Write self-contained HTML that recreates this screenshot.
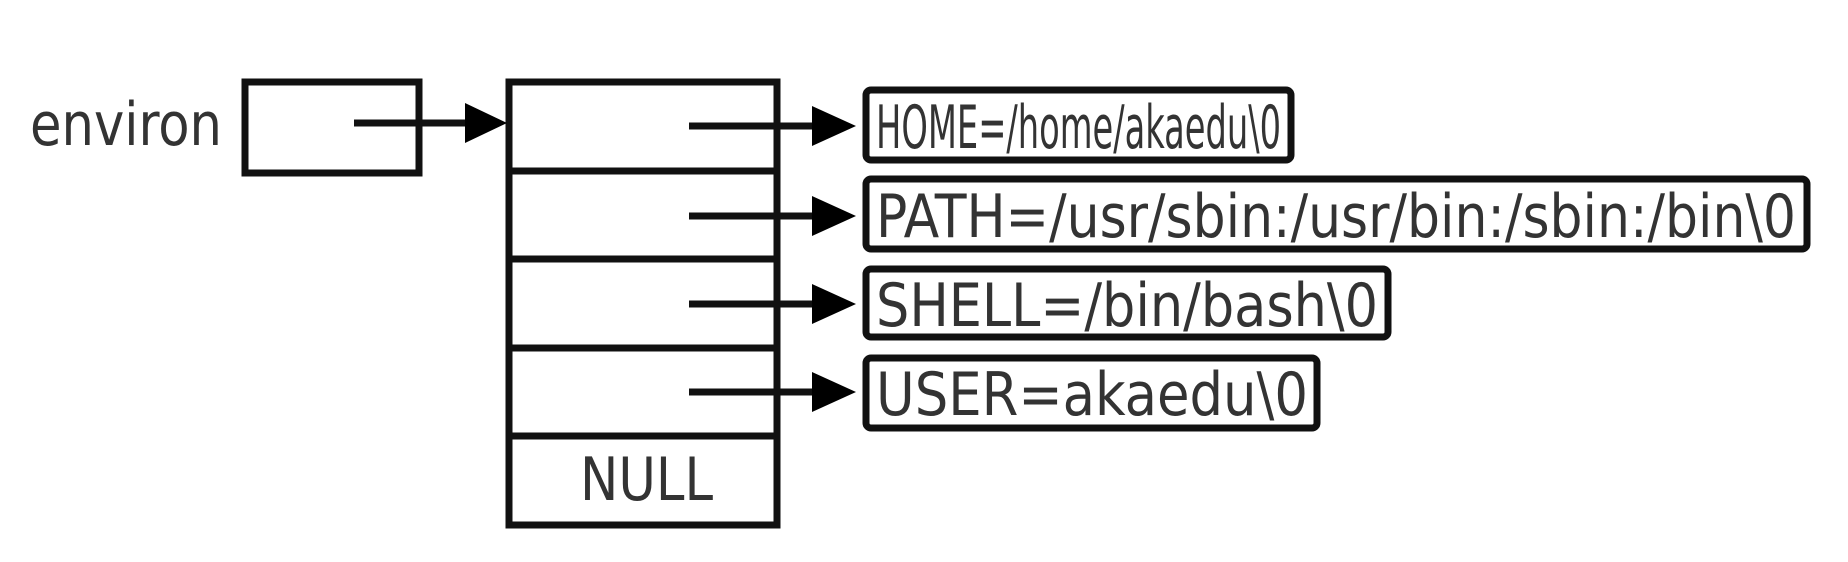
<!DOCTYPE html>
<html><head><meta charset="utf-8"><style>html,body{margin:0;padding:0;background:#fff}svg{display:block}</style></head>
<body>
<svg width="1848" height="562" viewBox="0 0 1848 562" xmlns="http://www.w3.org/2000/svg" font-family="'DejaVu Sans Condensed','DejaVu Sans','Liberation Sans',sans-serif" fill="#222">
<g stroke="#111" stroke-width="7" fill="none">
<rect x="245" y="82" width="174" height="91"/>
<rect x="509" y="82" width="268" height="443"/>
<line x1="509" y1="171" x2="777" y2="171"/>
<line x1="509" y1="259" x2="777" y2="259"/>
<line x1="509" y1="348" x2="777" y2="348"/>
<line x1="509" y1="436" x2="777" y2="436"/>
<rect x="866" y="90" width="425" height="70" rx="5"/>
<rect x="866" y="179" width="941" height="70" rx="5"/>
<rect x="866" y="269" width="522" height="68" rx="5"/>
<rect x="866" y="358" width="451" height="70" rx="5"/>
<line x1="354" y1="123" x2="470" y2="123"/>
<line x1="689" y1="126" x2="815" y2="126"/>
<line x1="689" y1="216" x2="815" y2="216"/>
<line x1="689" y1="304" x2="815" y2="304"/>
<line x1="689" y1="392" x2="815" y2="392"/>
</g>
<g fill="#000">
<path d="M465,103 L507,123 L465,143 z"/>
<path d="M812,106 L856,126 L812,146 z"/>
<path d="M812,196 L856,216 L812,236 z"/>
<path d="M812,284 L856,304 L812,324 z"/>
<path d="M812,372 L856,392 L812,412 z"/>
</g>
<g font-size="60" fill="#333">
<text x="30" y="145" textLength="192" lengthAdjust="spacingAndGlyphs">environ</text>
<text x="580" y="500" textLength="133" lengthAdjust="spacingAndGlyphs">NULL</text>
<text x="876" y="148" textLength="405" lengthAdjust="spacingAndGlyphs">HOME=/home/akaedu\0</text>
<text x="876" y="237" textLength="920" lengthAdjust="spacingAndGlyphs">PATH=/usr/sbin:/usr/bin:/sbin:/bin\0</text>
<text x="876" y="326" textLength="502" lengthAdjust="spacingAndGlyphs">SHELL=/bin/bash\0</text>
<text x="876" y="415" textLength="432" lengthAdjust="spacingAndGlyphs">USER=akaedu\0</text>
</g>
</svg>
</body></html>
